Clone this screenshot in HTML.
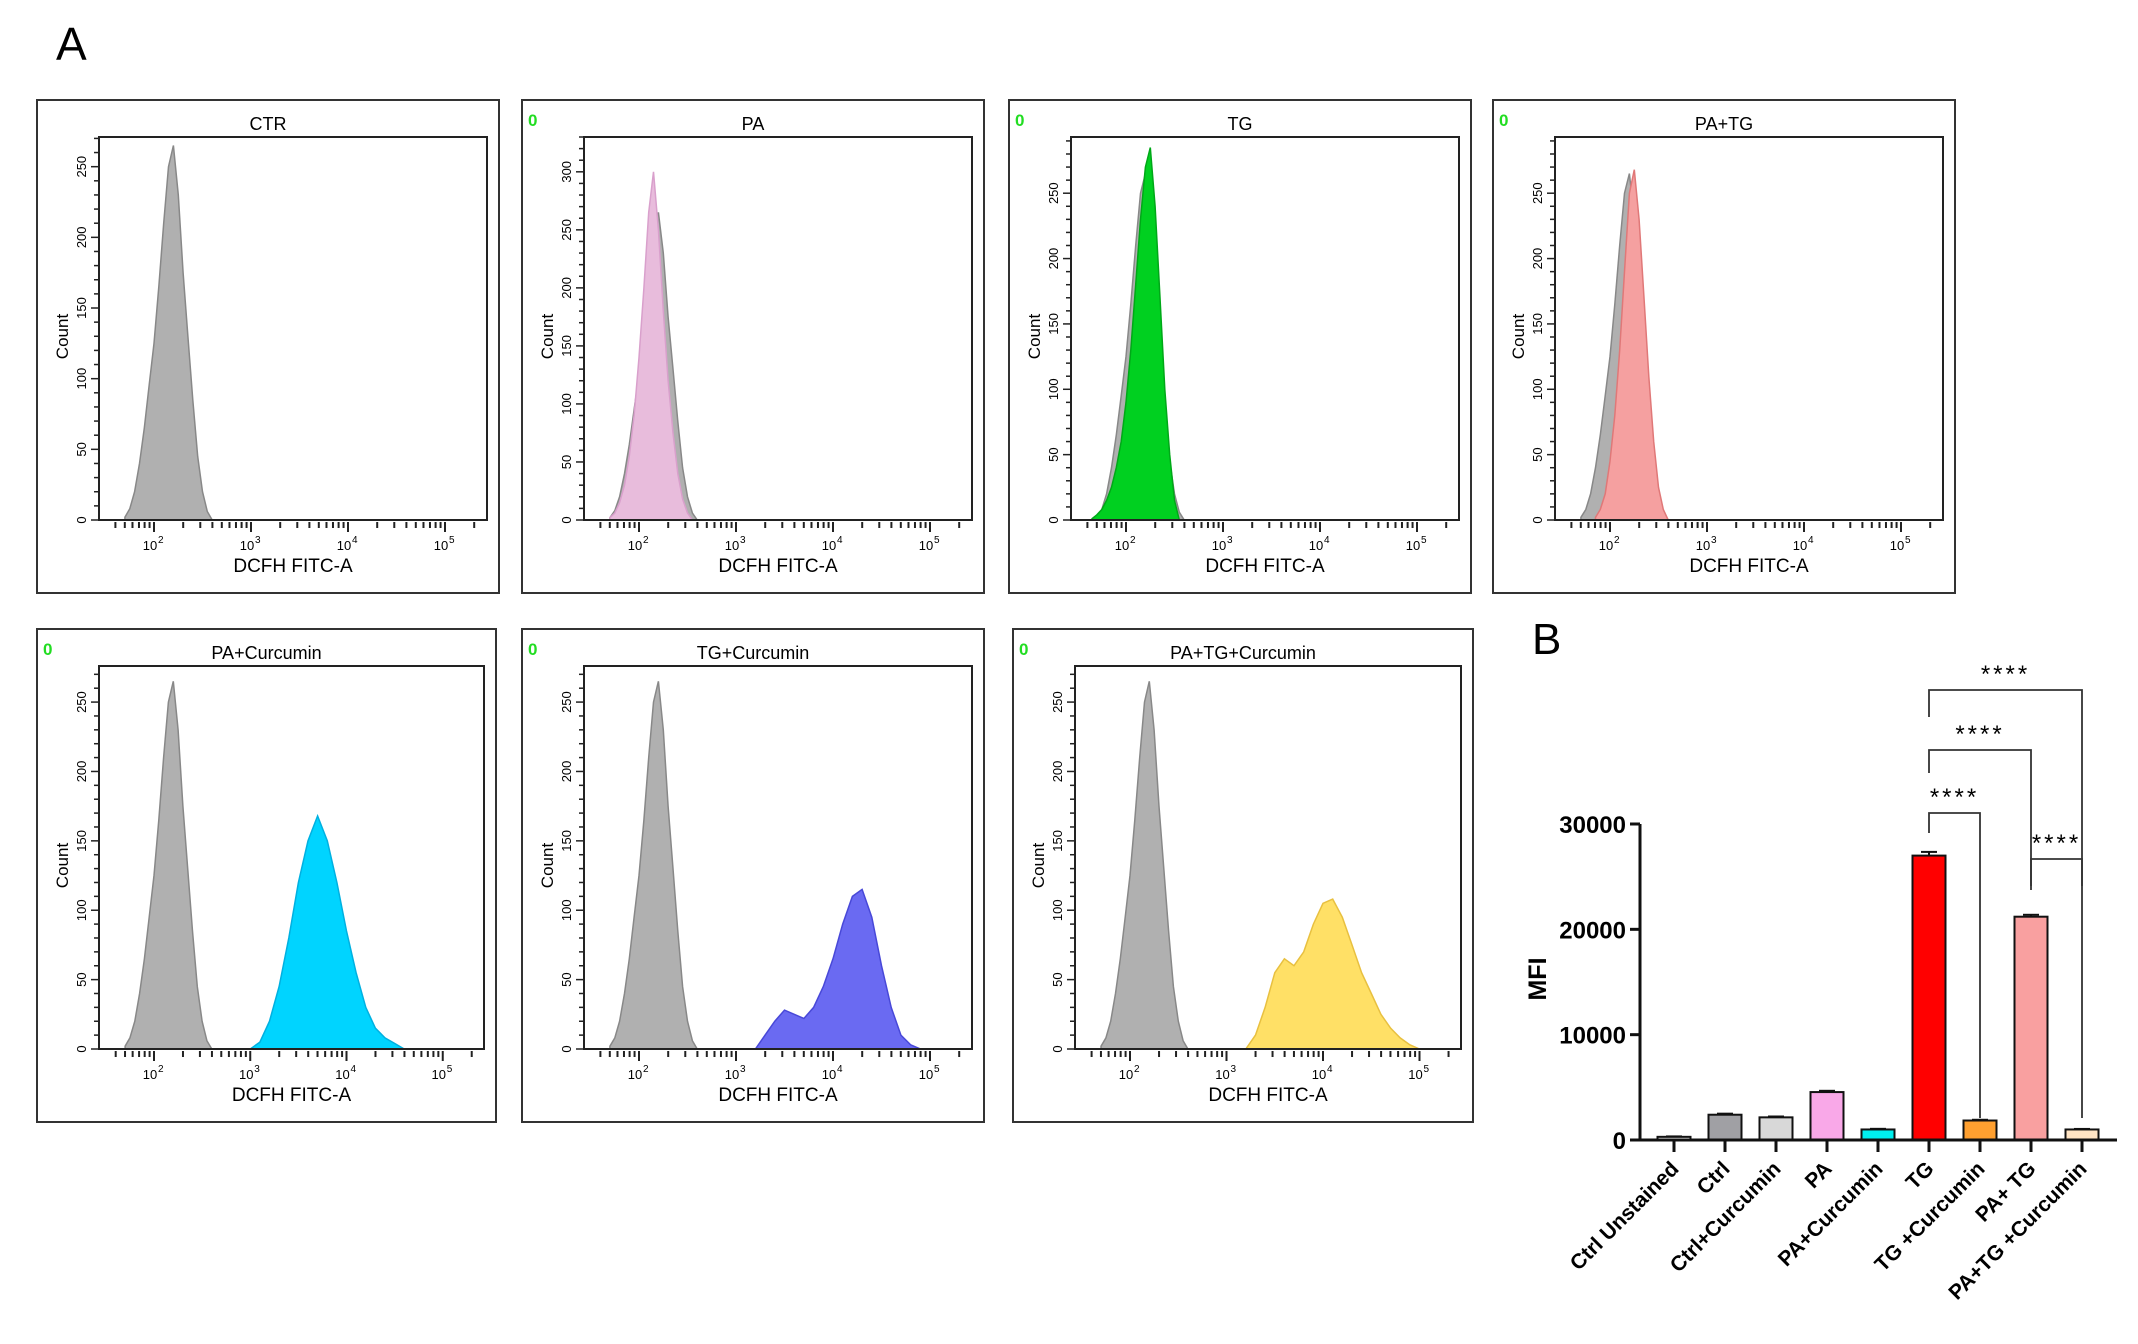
<!DOCTYPE html>
<html><head><meta charset="utf-8"><style>
html,body{margin:0;padding:0;background:#fff;}
svg{display:block;font-family:"Liberation Sans",Arial,sans-serif;}
</style></head><body>
<svg id="fig" width="2138" height="1344" viewBox="0 0 2138 1344" xmlns="http://www.w3.org/2000/svg">
<text x="56" y="60" font-size="46">A</text>
<text x="1532" y="654" font-size="44">B</text>
</svg>
<script>
// ---------- Histogram data (log10 fluorescence bins, counts) ----------
const grayStart = 1.70, grayStep = 0.05;
const grayCounts = [2,8,20,40,65,95,125,165,210,250,265,230,175,130,85,45,20,6,0];
const paStart = 1.70, paStep = 0.05;
const paCounts = [2,6,15,30,55,90,140,200,265,300,250,180,120,75,40,18,6,0];
const tgStart = 1.65, tgStep = 0.05;
const tgCounts = [1,4,8,15,25,40,60,90,130,180,230,270,285,240,170,100,50,15,0];
const patgStart = 1.85, patgStep = 0.05;
const patgCounts = [2,8,20,45,80,130,190,250,268,230,170,110,60,25,8,0];
const paCurStart = 3.0, paCurStep = 0.1;
const paCurCounts = [0,5,20,45,80,120,150,168,150,120,85,55,30,15,8,4,0];
const tgCurStart = 3.2, tgCurStep = 0.1;
const tgCurCounts = [0,10,20,28,25,22,30,45,65,90,110,115,95,60,30,10,3,0];
const patgCurStart = 3.2, patgCurStep = 0.1;
const patgCurCounts = [0,10,30,55,65,60,70,90,105,108,95,75,55,40,25,15,8,3,0];
const decadeLabels = ["2","3","4","5"];

// ---------- Bar chart data ----------
const barCategories = ["Ctrl Unstained","Ctrl","Ctrl+Curcumin","PA","PA+Curcumin","TG","TG +Curcumin","PA+ TG","PA+TG +Curcumin"];
const barValues = [300,2400,2150,4550,1000,27000,1850,21200,1000];
const barErrors = [40,100,80,120,60,350,70,180,50];
const barColors = ["#ffffff","#a0a0a4","#d8d8d8","#f9a8e8","#00f0f0","#ff0000","#ffa030","#f9a0a0","#ffe4c4"];
const yTicks = [0,10000,20000,30000];
const sigPairs = [[5,8],[5,7],[5,6],[7,8]];
const sigLabels = ["****","****","****","****"];

const NS="http://www.w3.org/2000/svg";
const svg=document.getElementById('fig');
function mk(tag,attrs,parent){const e=document.createElementNS(NS,tag);for(const k in attrs)e.setAttribute(k,attrs[k]);(parent||svg).appendChild(e);return e;}

const panels=[
 {title:"CTR",x:37,y:100,w:462,h:493,ymax:271,major:50,maxTick:250,green:false,overlay:null},
 {title:"PA",x:522,y:100,w:462,h:493,ymax:330,major:50,maxTick:300,green:true,overlay:[paStart,paStep,paCounts,"#e8bcdc","#d9a0cc"]},
 {title:"TG",x:1009,y:100,w:462,h:493,ymax:293,major:50,maxTick:250,green:true,overlay:[tgStart,tgStep,tgCounts,"#00d020","#00a818"]},
 {title:"PA+TG",x:1493,y:100,w:462,h:493,ymax:293,major:50,maxTick:250,green:true,overlay:[patgStart,patgStep,patgCounts,"#f5a0a0","#e07878"]},
 {title:"PA+Curcumin",x:37,y:629,w:459,h:493,ymax:276,major:50,maxTick:250,green:true,overlay:[paCurStart,paCurStep,paCurCounts,"#00d4ff","#00b0e0"]},
 {title:"TG+Curcumin",x:522,y:629,w:462,h:493,ymax:276,major:50,maxTick:250,green:true,overlay:[tgCurStart,tgCurStep,tgCurCounts,"#6a6af2","#4848d8"]},
 {title:"PA+TG+Curcumin",x:1013,y:629,w:460,h:493,ymax:276,major:50,maxTick:250,green:true,overlay:[patgCurStart,patgCurStep,patgCurCounts,"#ffe066","#e8c040"]}
];

panels.forEach((p,pi)=>{
 const g=mk('g',{});
 
 
 mk('rect',{x:p.x,y:p.y,width:p.w,height:p.h,fill:'none',stroke:'#333','stroke-width':2},g);
 const L=p.x+62,T=p.y+37,R=p.x+p.w-12,B=p.y+420;
 const pxDec=(R-L)/4.0;
 const logL=2-55/pxDec;
 const sx=v=>L+(v-logL)*pxDec;
 const sy=c=>B-c/p.ymax*(B-T);
 const t=mk('text',{x:p.x+p.w/2,y:p.y+30,'text-anchor':'middle','font-size':18},g);t.textContent=p.title;
 
 
 if(p.green){const z=mk('text',{x:p.x+6,y:p.y+26,'font-size':17,fill:'#22dd22','font-weight':'bold'},g);z.textContent="0";
  
  }
 function hist(start,step,counts,fill,stroke,name){
  let d='M'+sx(start)+','+B;
  counts.forEach((c,i)=>{d+=' L'+sx(start+i*step).toFixed(1)+','+sy(c).toFixed(1);});
  d+=' L'+sx(start+(counts.length-1)*step)+','+B+' Z';
  const h=mk('path',{d:d,fill:fill,stroke:stroke,'stroke-width':1.5},g);
  
  
 }
 hist(grayStart,grayStep,grayCounts,'#b0b0b0','#888','control-histogram');
 if(p.overlay){const o=p.overlay;hist(o[0],o[1],o[2],o[3],o[4],'treatment-histogram');}
 mk('rect',{x:L,y:T,width:R-L,height:B-T,fill:'none',stroke:'#222','stroke-width':2},g);
 for(let c=0;c<=p.ymax;c+=10){
  const y=sy(c);const maj=c%p.major===0;
  mk('line',{x1:L-(maj?8:5),x2:L,y1:y,y2:y,stroke:'#222','stroke-width':1.5},g);
  if(maj&&c<=p.maxTick){const tx=mk('text',{x:0,y:0,'font-size':13,'text-anchor':'middle',transform:`translate(${L-13},${y}) rotate(-90)`},g);tx.textContent=c;}
 }
 const cl=mk('text',{x:0,y:0,'font-size':17,'text-anchor':'middle',transform:`translate(${p.x+31},${(T+B)/2+8}) rotate(-90)`},g);cl.textContent="Count";
 
 
 for(let dec=1;dec<=5;dec++){
  for(let m=1;m<=9;m++){
   const lv=dec+Math.log10(m);const x=sx(lv);
   if(x<L+5||x>R-5)continue;
   mk('line',{x1:x,x2:x,y1:B+2,y2:B+(m===1?12:8),stroke:'#222','stroke-width':2},g);
  }
 }
 decadeLabels.forEach(e=>{
  const x=sx(+e);
  const tt=mk('text',{x:x-4,y:B+30,'font-size':13,'text-anchor':'middle'},g);tt.textContent="10";
  const sp=mk('text',{x:x+4,y:B+23,'font-size':10},g);sp.textContent=e;
 });
 const xl=mk('text',{x:(L+R)/2,y:B+52,'font-size':19,'text-anchor':'middle'},g);xl.textContent="DCFH FITC-A";
 
 
});

// ---------- Bar chart ----------
const bg=mk('g',{});


const AX=1640,Y0=1140,Y30=824,XEND=2117,X0=1674,DX=51,BW=33;
const by=v=>Y0-(v/30000)*(Y0-Y30);
const bx=i=>X0+i*DX;
barValues.forEach((v,i)=>{
 const r=mk('rect',{x:bx(i)-BW/2,y:by(v),width:BW,height:Y0-by(v),fill:barColors[i],stroke:'#111','stroke-width':2},bg);
 
 
 const ye=by(v+barErrors[i]);
 mk('line',{x1:bx(i),x2:bx(i),y1:by(v),y2:ye,stroke:'#111','stroke-width':2},bg);
 mk('line',{x1:bx(i)-8,x2:bx(i)+8,y1:ye,y2:ye,stroke:'#111','stroke-width':2},bg);
 mk('line',{x1:bx(i),x2:bx(i),y1:Y0,y2:Y0+12,stroke:'#111','stroke-width':3},bg);
 const lt=mk('text',{x:0,y:0,'font-size':21,'font-weight':'bold','text-anchor':'end',transform:`translate(${bx(i)+6},${Y0+30}) rotate(-45)`},bg);
 lt.textContent=barCategories[i];
 
 
});
mk('line',{x1:AX,x2:XEND,y1:Y0,y2:Y0,stroke:'#111','stroke-width':3},bg);
mk('line',{x1:AX,x2:AX,y1:Y30,y2:Y0,stroke:'#111','stroke-width':3},bg);
yTicks.forEach(v=>{
 mk('line',{x1:AX-10,x2:AX,y1:by(v),y2:by(v),stroke:'#111','stroke-width':3},bg);
 const t=mk('text',{x:AX-14,y:by(v)+9,'font-size':24,'font-weight':'bold','text-anchor':'end'},bg);t.textContent=v;
 
 
});
const mfi=mk('text',{x:0,y:0,'font-size':25,'font-weight':'bold','text-anchor':'middle',transform:`translate(1546,979) rotate(-90)`},bg);mfi.textContent="MFI";


const brY=[690,750,813,859];
const brLeftEnd=[717,773,833,890];
sigPairs.forEach((pr,k)=>{
 const a=pr[0],b=pr[1],y=brY[k];
 const yaL=brLeftEnd[k];
 const ybR=(k===1||k===0)?886:1118;
 const br=mk('path',{d:`M${bx(a)},${yaL} V${y} H${bx(b)} V${ybR}`,fill:'none',stroke:'#333','stroke-width':1.8},bg);
 
 
 const st=mk('text',{x:(bx(a)+bx(b))/2,y:y-8,'font-size':24,'text-anchor':'middle','letter-spacing':'3'},bg);st.textContent=sigLabels[k];
 
 
});
</script>
</body></html>
